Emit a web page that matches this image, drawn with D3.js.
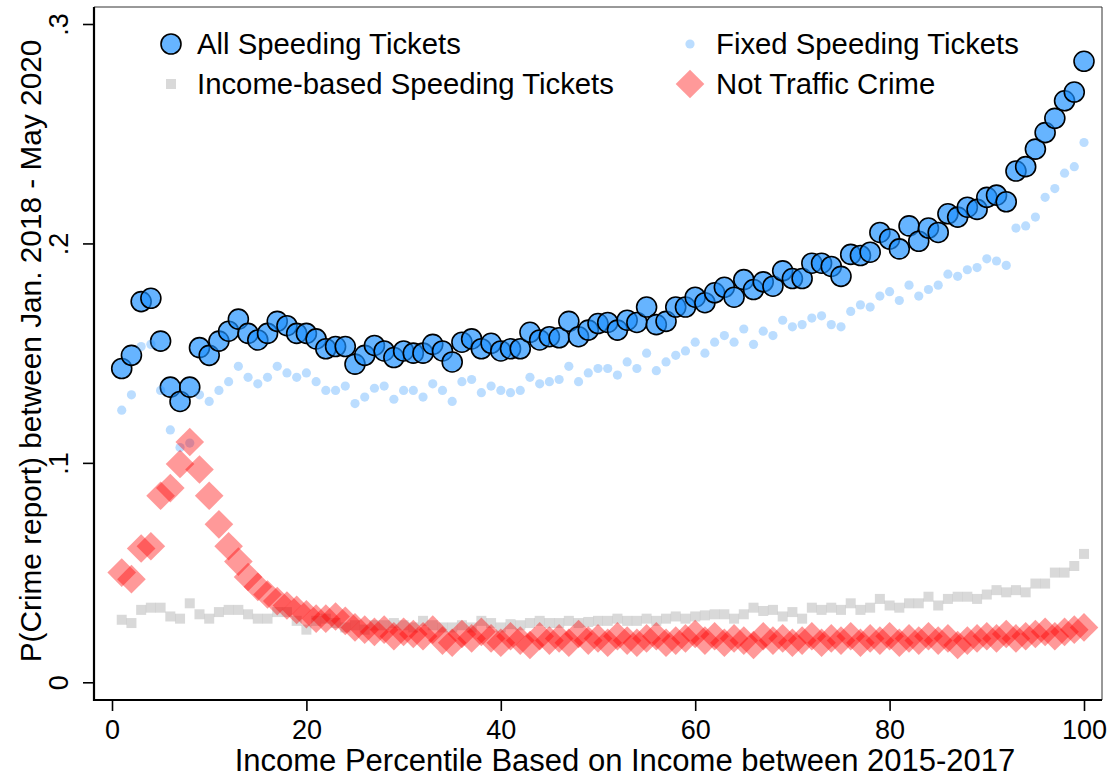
<!DOCTYPE html>
<html>
<head>
<meta charset="utf-8">
<script src="https://cdn.jsdelivr.net/npm/d3@7"></script>
<style>
  body { margin: 0; background: #fff; }
  svg { display: block; font-family: "Liberation Sans", Arial, sans-serif; }
</style>
</head>
<body>
<script>
// percentili di reddito 1..100
var percentiles = d3.range(1, 101);

// P(crime report) per percentile
var allTickets = [
  .143,.149,.1735,.175,.1555,.1345,.128,.1345,.1525,.149,
  .1555,.160,.1655,.159,.156,.159,.1645,.1625,.159,.159,
  .1565,.152,.153,.153,.145,.149,.1535,.151,.148,.151,
  .150,.150,.154,.151,.146,.155,.1565,.152,.1545,.151,
  .152,.152,.1595,.156,.1575,.157,.1645,.1575,.1605,.1635,
  .164,.1605,.165,.164,.171,.163,.1645,.171,.171,.1755,
  .173,.1775,.180,.1755,.1835,.179,.1825,.1805,.1875,.184,
  .184,.191,.191,.1895,.185,.195,.1945,.196,.205,.202,
  .1975,.208,.201,.207,.205,.2135,.212,.2165,.2155,.221,
  .222,.219,.233,.235,.243,.2505,.257,.265,.269,.283
];
var fixedTickets = [
  .124,.131,.153,.154,.133,.115,.107,.109,.131,.128,
  .133,.137,.144,.139,.136,.139,.144,.141,.139,.141,
  .137,.133,.133,.135,.127,.130,.134,.135,.129,.133,
  .133,.130,.136,.133,.128,.137,.138,.132,.135,.133,
  .132,.133,.139,.136,.137,.138,.144,.137,.141,.143,
  .143,.140,.146,.143,.150,.142,.146,.149,.151,.155,
  .150,.155,.158,.155,.161,.154,.160,.158,.165,.162,
  .163,.166,.167,.163,.162,.169,.172,.171,.176,.178,
  .174,.181,.176,.179,.181,.186,.185,.188,.189,.193,
  .192,.190,.207,.208,.212,.221,.225,.232,.235,.246
];
var incomeTickets = [
  .0285,.027,.033,.034,.034,.030,.029,.036,.031,.029,
  .032,.033,.033,.031,.029,.029,.032,.032,.028,.024,
  .028,.029,.027,.025,.026,.024,.026,.026,.027,.026,
  .025,.028,.026,.025,.025,.026,.025,.028,.027,.025,
  .0265,.026,.027,.028,.027,.027,.028,.027,.0275,.028,
  .028,.029,.028,.028,.029,.028,.029,.030,.029,.030,
  .0305,.031,.031,.029,.031,.034,.0325,.033,.030,.032,
  .029,.034,.033,.034,.033,.036,.033,.034,.038,.035,
  .034,.036,.036,.039,.035,.038,.039,.039,.038,.040,
  .042,.041,.042,.041,.045,.045,.050,.050,.053,.0585
];
var notTraffic = [
  .050,.047,.061,.062,.085,.0885,.0995,.1095,.097,.085,
  .072,.062,.055,.048,.0435,.040,.037,.035,.033,.031,
  .029,.029,.030,.028,.025,.024,.023,.024,.021,.023,
  .022,.021,.024,.019,.018,.022,.020,.023,.020,.018,
  .021,.019,.017,.021,.019,.020,.018,.022,.019,.020,
  .018,.021,.019,.018,.020,.021,.018,.019,.020,.022,
  .019,.021,.018,.020,.019,.017,.021,.019,.020,.018,
  .019,.021,.018,.020,.019,.021,.018,.020,.019,.021,
  .018,.020,.019,.021,.019,.020,.017,.019,.020,.021,
  .020,.022,.020,.021,.022,.023,.021,.023,.024,.025
];

var seriesNames = ["All Speeding Tickets", "Fixed Speeding Tickets",
                   "Income-based Speeding Tickets", "Not Traffic Crime"];
var xTicks = [0, 20, 40, 60, 80, 100];
var yTicks = [0, .1, .2, .3];
var xTitle = "Income Percentile Based on Income between 2015-2017";
var yTitle = "P(Crime report) between Jan. 2018 - May 2020";

var W = 1117, H = 778;
var plot = {left: 94, right: 1102, top: 7, bottom: 700};

var svg = d3.select("body").append("svg")
  .attr("width", W).attr("height", H);

var x = d3.scaleLinear().domain([0, 100]).range([112, 1084]);
var y = d3.scaleLinear().domain([0, .3]).range([682.3, 24]);

// rombo = quadrato ruotato di 45 gradi
var diamond = d3.symbol().type(d3.symbolSquare).size(410)();

// cornice sottile in alto e a destra
svg.append("path")
  .attr("d", "M" + plot.left + "," + plot.top + "H" + plot.right + "V" + plot.bottom)
  .attr("fill", "none").attr("stroke", "#333").attr("stroke-width", 1);

// serie 1: tutte le multe (cerchi)
svg.append("g").selectAll("circle").data(percentiles).enter().append("circle")
  .attr("cx", function(d) { return x(d); })
  .attr("cy", function(d, i) { return y(allTickets[i]); })
  .attr("r", 10)
  .attr("fill", "rgba(30,144,255,0.68)")
  .attr("stroke", "#000").attr("stroke-width", 1.6);

// serie 2: multe fisse (punti)
svg.append("g").selectAll("circle").data(percentiles).enter().append("circle")
  .attr("cx", function(d) { return x(d); })
  .attr("cy", function(d, i) { return y(fixedTickets[i]); })
  .attr("r", 4.6)
  .attr("fill", "rgba(30,144,255,0.3)");

// serie 3: multe in base al reddito (quadrati)
svg.append("g").selectAll("rect").data(percentiles).enter().append("rect")
  .attr("x", function(d) { return x(d) - 5; })
  .attr("y", function(d, i) { return y(incomeTickets[i]) - 5; })
  .attr("width", 10).attr("height", 10)
  .attr("fill", "rgba(128,128,128,0.3)");

// serie 4: reati non stradali (rombi)
svg.append("g").selectAll("path").data(percentiles).enter().append("path")
  .attr("d", diamond)
  .attr("transform", function(d, i) {
    return "translate(" + x(d) + "," + y(notTraffic[i]) + ") rotate(45)";
  })
  .attr("fill", "rgba(255,0,0,0.4)");

// assi
var xAxis = d3.axisBottom(x).tickValues(xTicks).tickSize(11).tickSizeOuter(0);
var gx = svg.append("g").attr("transform", "translate(0," + plot.bottom + ")").call(xAxis);
gx.select(".domain").remove();
gx.selectAll("line").attr("stroke", "#000").attr("stroke-width", 1.6);
gx.selectAll("text").attr("font-size", 27).attr("fill", "#000")
  .attr("y", 39).attr("dy", 0);

var yAxis = d3.axisLeft(y).tickValues(yTicks).tickSize(11).tickSizeOuter(0)
  .tickFormat(function(d) { return d === 0 ? "0" : "." + Math.round(d * 10); });
var gy = svg.append("g").attr("transform", "translate(" + plot.left + ",0)").call(yAxis);
gy.select(".domain").remove();
gy.selectAll("line").attr("stroke", "#000").attr("stroke-width", 1.6);
gy.selectAll("text")
  .attr("font-size", 27).attr("fill", "#000")
  .attr("x", null).attr("dy", 0)
  .attr("text-anchor", "middle")
  .attr("transform", "translate(-26,0) rotate(-90)");

// linee degli assi (più spesse)
svg.append("path")
  .attr("d", "M" + plot.left + "," + plot.top + "V" + plot.bottom + "H" + plot.right)
  .attr("fill", "none").attr("stroke", "#000").attr("stroke-width", 2.2);

// titoli degli assi
svg.append("text")
  .attr("x", 625).attr("y", 771)
  .attr("text-anchor", "middle").attr("font-size", 31)
  .text(xTitle);
svg.append("text")
  .attr("transform", "translate(41,351) rotate(-90)")
  .attr("text-anchor", "middle").attr("font-size", 29.8)
  .text(yTitle);

// legenda
var legend = svg.append("g").attr("font-size", 29.3);
var legItems = [
  {name: seriesNames[0], mx: 171, my: 44},
  {name: seriesNames[1], mx: 690, my: 44},
  {name: seriesNames[2], mx: 171, my: 84},
  {name: seriesNames[3], mx: 690, my: 84}
];
legend.append("circle").attr("cx", legItems[0].mx).attr("cy", legItems[0].my).attr("r", 10)
  .attr("fill", "rgba(30,144,255,0.68)").attr("stroke", "#000").attr("stroke-width", 1.6);
legend.append("circle").attr("cx", legItems[1].mx).attr("cy", legItems[1].my).attr("r", 4.6)
  .attr("fill", "rgba(30,144,255,0.3)");
legend.append("rect").attr("x", legItems[2].mx - 5).attr("y", legItems[2].my - 5)
  .attr("width", 10).attr("height", 10).attr("fill", "rgba(128,128,128,0.3)");
legend.append("path").attr("d", diamond)
  .attr("transform", "translate(" + legItems[3].mx + "," + legItems[3].my + ") rotate(45)")
  .attr("fill", "rgba(255,0,0,0.4)");
legend.selectAll("text").data(legItems).enter().append("text")
  .attr("x", function(d) { return d.mx + 26; })
  .attr("y", function(d) { return d.my + 10; })
  .text(function(d) { return d.name; });
</script>
</body>
</html>
